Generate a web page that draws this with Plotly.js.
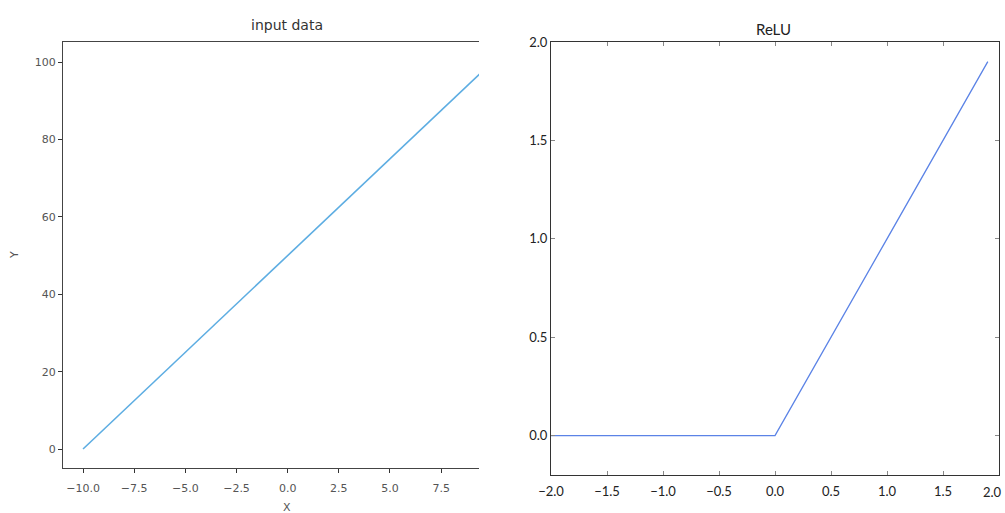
<!DOCTYPE html>
<html>
<head>
<meta charset="utf-8">
<script src="https://cdn.plot.ly/plotly-3.0.1.min.js"></script>
<style>html,body{margin:0;padding:0;background:#fff;}#chart{width:1005px;height:513px;}</style>
</head>
<body>
<div id="chart"></div>
<script>
// input data (line y = 5x + 50)
var inputX = [-10, -5, 0, 5, 9.9];
var inputY = [0, 25, 50, 75, 99.5];
// ReLU curve
var reluX = [-2.0, -1.0, 0.0, 1.0, 1.9];
var reluY = [0.0, 0.0, 0.0, 1.0, 1.9];

var leftTicksX = [-10, -7.5, -5, -2.5, 0, 2.5, 5, 7.5];
var leftTickTextX = ['\u221210.0', '\u22127.5', '\u22125.0', '\u22122.5', '0.0', '2.5', '5.0', '7.5'];
var leftTicksY = [0, 20, 40, 60, 80, 100];
var rightTicksX = [-2, -1.5, -1, -0.5, 0, 0.5, 1, 1.5, 2];
var rightTickTextX = ['\u22122.0', '\u22121.5', '\u22121.0', '\u22120.5', '0.0', '0.5', '1.0', '1.5', '2.0'];
var rightTicksY = [0, 0.5, 1, 1.5, 2];
var rightTickTextY = ['0.0', '0.5', '1.0', '1.5', '2.0'];

var leftFont = {family: 'DejaVu Sans', size: 11, color: '#555'};
var rightFont = {family: 'Lato', size: 13, color: '#222'};

var traces = [
  {x: inputX, y: inputY, type: 'scatter', mode: 'lines', line: {color: '#5dade2', width: 1.6}, xaxis: 'x', yaxis: 'y', hoverinfo: 'skip'},
  {x: reluX, y: reluY, type: 'scatter', mode: 'lines', line: {color: '#5b83e6', width: 1.3}, xaxis: 'x2', yaxis: 'y2', hoverinfo: 'skip'}
];

var layout = {
  width: 1005, height: 513,
  margin: {l: 0, r: 0, t: 0, b: 0},
  paper_bgcolor: '#fff', plot_bgcolor: '#fff',
  showlegend: false,
  xaxis: {
    domain: [63/1005, 479/1005], range: [-10.98, 9.35],
    tickvals: leftTicksX, ticktext: leftTickTextX,
    ticks: 'outside', ticklen: 4, tickcolor: '#333', tickwidth: 1,
    ticklabelstandoff: 6,
    showline: true, linecolor: '#444', linewidth: 1, mirror: true,
    showgrid: false, zeroline: false, tickfont: leftFont
  },
  yaxis: {
    domain: [1 - 468/513, 1 - 42/513], range: [-4.9, 105.2],
    tickvals: leftTicksY,
    ticks: 'outside', ticklen: 4, tickcolor: '#333', tickwidth: 1,
    showline: true, linecolor: '#444', linewidth: 1, mirror: false,
    showgrid: false, zeroline: false, tickfont: leftFont
  },
  xaxis2: {
    domain: [551/1005, 999/1005], range: [-2, 2], anchor: 'y2',
    tickvals: rightTicksX, ticktext: rightTickTextX,
    ticks: 'inside', ticklen: 4, tickcolor: '#888', tickwidth: 1,
    ticklabelstandoff: 4,
    showline: true, linecolor: '#333', linewidth: 1, mirror: 'allticks',
    showgrid: false, zeroline: false, tickfont: rightFont
  },
  yaxis2: {
    domain: [1 - 475/513, 1 - 42/513], range: [-0.2, 2.0], anchor: 'x2',
    tickvals: rightTicksY, ticktext: rightTickTextY,
    ticks: 'inside', ticklen: 4, tickcolor: '#888', tickwidth: 1,
    showline: true, linecolor: '#333', linewidth: 1, mirror: 'allticks',
    showgrid: false, zeroline: false, tickfont: rightFont
  },
  annotations: [
    {text: 'input data', xref: 'paper', yref: 'paper', x: 287/1005, y: 1 - 25/513, xanchor: 'center', yanchor: 'middle', showarrow: false, font: {family: 'DejaVu Sans', size: 14, color: '#333'}},
    {text: 'ReLU', xref: 'paper', yref: 'paper', x: 773/1005, y: 1 - 29/513, xanchor: 'center', yanchor: 'middle', showarrow: false, font: {family: 'Lato', size: 15, color: '#222'}},
    {text: 'X', xref: 'paper', yref: 'paper', x: 287/1005, y: 1 - 507/513, xanchor: 'center', yanchor: 'middle', showarrow: false, font: {family: 'DejaVu Sans', size: 11, color: '#555'}},
    {text: 'Y', xref: 'paper', yref: 'paper', x: 15/1005, y: 1 - 255/513, xanchor: 'center', yanchor: 'middle', textangle: -90, showarrow: false, font: {family: 'DejaVu Sans', size: 11, color: '#555'}},
    {text: '2.0', xref: 'paper', yref: 'paper', x: 1004/1005, y: 1 - 492/513, xanchor: 'right', yanchor: 'middle', showarrow: false, font: rightFont}
  ]
};

Plotly.newPlot('chart', traces, layout, {staticPlot: true, displayModeBar: false});
</script>
</body>
</html>
